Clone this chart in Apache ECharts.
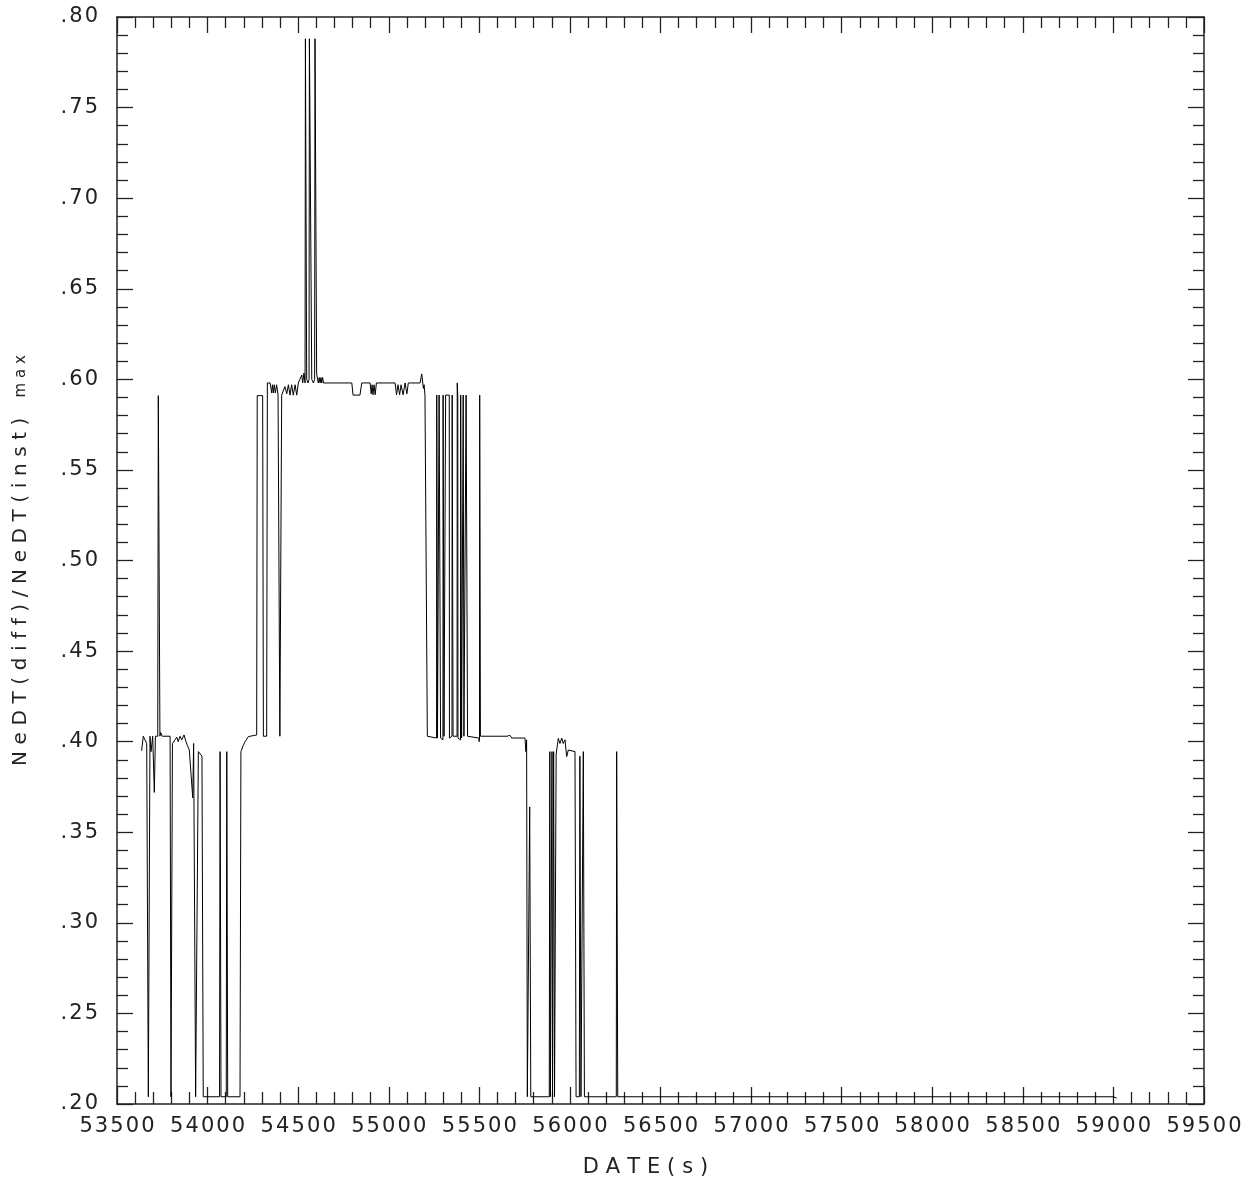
<!DOCTYPE html>
<html>
<head>
<meta charset="utf-8">
<script src="https://cdn.jsdelivr.net/npm/echarts@6/dist/echarts.min.js"></script>
<style>
html,body{margin:0;padding:0;background:#fff;}
#chart{width:1246px;height:1184px;}
</style>
</head>
<body>
<div id="chart"></div>
<script>
// Axis ranges and tick steps
const xRange = [53500, 59500];
const xStep = 500;
const yRange = [0.20, 0.80];
const yStep = 0.05;

// Time (s) vs NeDT(diff)/NeDT(inst) max, in segments
const segStart = [
  [53636,0.395],[53645,0.403],[53655,0.404],[53664,0.399],[53670,0.399],[53673,0.204],[53679,0.204],
  [53682,0.403],[53688,0.3945],[53697,0.403],[53700,0.403],[53706,0.372],[53712,0.403],[53725,0.403],
  [53728,0.591],[53733,0.591],[53737,0.403],[53741,0.405],[53750,0.403],[53793,0.403],[53798,0.204],
  [53803,0.204],[53806,0.399],[53820,0.401],[53830,0.4025],[53838,0.400],[53848,0.403],[53857,0.401],
  [53870,0.4037],[53881,0.400],[53888,0.398],[53899,0.3954],[53908,0.3945],[53918,0.369],[53923,0.399],
  [53934,0.204],[53945,0.204],[53949,0.3945],[53958,0.395],[53969,0.392],[53976,0.204],[54066,0.204],
  [54069,0.3945],[54072,0.3945],[54074,0.204],[54103,0.204],[54106,0.3945],[54109,0.3945],[54111,0.204],
  [54179,0.204],[54184,0.3945],[54197,0.398],[54207,0.400],[54225,0.4028],[54234,0.403],[54271,0.4037],
  [54274,0.591],[54304,0.591],[54308,0.403],[54326,0.403]
];
const segPlateau = [
  [54330,0.598],[54345,0.598],[54354,0.5925],[54358,0.597],[54363,0.5925],[54368,0.597],[54374,0.5925],
  [54381,0.597],[54389,0.5913],[54396,0.5913],[54399,0.403],[54404,0.403],[54409,0.5913],[54418,0.5913],
  [54427,0.596],[54437,0.592],[54446,0.597],[54455,0.5913],[54464,0.597],[54473,0.5913],[54483,0.597],
  [54492,0.5913],[54501,0.598],[54510,0.599],[54520,0.6024],[54525,0.598],[54532,0.6035],[54538,0.598],
  [54540,0.788],[54545,0.788],[54547,0.600],[54554,0.598],[54560,0.600],[54562,0.788],[54572,0.788],
  [54575,0.600],[54584,0.598],[54591,0.600],[54593,0.788],[54600,0.788],[54602,0.603],[54611,0.598],
  [54616,0.601],[54621,0.598],[54626,0.601],[54630,0.598],[54635,0.601],[54640,0.598],[54796,0.598],
  [54803,0.5913],[54841,0.5913],[54851,0.598],[54897,0.598],[54903,0.592],[54908,0.597],[54913,0.5915],
  [54919,0.597],[54925,0.5915],[54932,0.598],[54942,0.598],[55035,0.598],[55043,0.5915],[55051,0.597],
  [55060,0.5915],[55068,0.597],[55079,0.5915],[55090,0.598],[55100,0.592],[55108,0.598],[55173,0.598],
  [55182,0.603],[55191,0.595],[55195,0.597],[55200,0.5913],[55209,0.5913]
];
const segDecline = [
  [55213,0.403],[55218,0.402],[55264,0.402],[55265,0.5913],[55268,0.5913],[55269,0.402],[55277,0.403],
  [55278,0.5913],[55285,0.5913],[55286,0.402],[55299,0.401],[55300,0.5913],[55304,0.5913],[55305,0.403],
  [55313,0.402],[55314,0.5913],[55334,0.5913],[55335,0.402],[55349,0.403],[55350,0.5913],[55354,0.5913],
  [55355,0.403],[55377,0.403],[55378,0.598],[55381,0.5913],[55382,0.402],[55396,0.401],[55397,0.5913],
  [55401,0.5913],[55402,0.402],[55410,0.403],[55411,0.5913],[55414,0.5913],[55415,0.403],[55426,0.402],
  [55427,0.5913],[55434,0.5913],[55435,0.403],[55497,0.402],[55499,0.400],[55501,0.402],[55502,0.5913],
  [55505,0.5913],[55506,0.403],[55575,0.403],[55586,0.4022],[55597,0.403],[55653,0.403],[55661,0.402],
  [55669,0.4035],[55679,0.402],[55752,0.402],[55757,0.3945],[55761,0.401],[55765,0.204]
];
const segTail = [
  [55775,0.204],[55778,0.364],[55781,0.364],[55784,0.204],[55886,0.204],[55889,0.3945],[55892,0.204],
  [55898,0.204],[55901,0.3945],[55904,0.204],[55908,0.204],[55910,0.3945],[55915,0.204],[55920,0.204],
  [55924,0.393],[55927,0.3954],[55936,0.4018],[55945,0.399],[55955,0.402],[55963,0.399],[55973,0.401],
  [55982,0.3917],[55991,0.3954],[56000,0.3945],[56028,0.3945],[56034,0.204],[56052,0.204],[56055,0.392],
  [56058,0.392],[56061,0.204],[56072,0.204],[56074,0.3945],[56077,0.3945],[56080,0.204],[56256,0.204],
  [56258,0.3945],[56261,0.3945],[56264,0.204],[56475,0.204],[56479,0.2032],[56483,0.204],[56660,0.204],
  [56664,0.2034],[56668,0.204],[57890,0.204],[57894,0.2032],[57898,0.204],[58998,0.204],[59018,0.2033]
];

const seriesData = [].concat(segStart, segPlateau, segDecline, segTail);

const FONT = 'DejaVu Sans';
const INK = '#222';
function spaced(s, sp) { return String(s).split('').join(sp); }

function xAxisCfg(pos, showLabel) {
  return {
    type: 'value', position: pos, min: xRange[0], max: xRange[1], interval: xStep,
    axisLine: { show: true, onZero: false, lineStyle: { color: INK, width: 1.5 } },
    axisTick: { show: true, inside: true, length: pos === 'bottom' ? 17 : 16, lineStyle: { color: INK, width: 1.3 } },
    minorTick: { show: true, splitNumber: 5, length: pos === 'bottom' ? 12 : 11, lineStyle: { color: INK, width: 1.3 } },
    splitLine: { show: false }, minorSplitLine: { show: false },
    axisLabel: {
      show: showLabel, margin: 12, fontFamily: FONT, fontSize: 21, color: INK,
      formatter: v => spaced(v, '\u200A')
    }
  };
}
function yAxisCfg(pos, showLabel) {
  return {
    type: 'value', position: pos, min: yRange[0], max: yRange[1], interval: yStep,
    axisLine: { show: true, onZero: false, lineStyle: { color: INK, width: 1.5 } },
    axisTick: { show: true, inside: true, length: 16, lineStyle: { color: INK, width: 1.3 } },
    minorTick: { show: true, splitNumber: 5, length: 11, lineStyle: { color: INK, width: 1.3 } },
    splitLine: { show: false }, minorSplitLine: { show: false },
    axisLabel: {
      show: showLabel, margin: 19, fontFamily: FONT, fontSize: 21, color: INK,
      formatter: v => spaced(v.toFixed(2).replace(/^0/, ''), '\u200A')
    }
  };
}

const xb = xAxisCfg('bottom', true);
xb.name = spaced('DATE(s)', '\u2004');
xb.nameLocation = 'middle';
xb.nameGap = 53;
xb.nameTextStyle = { fontFamily: FONT, fontSize: 21, color: INK, padding: [0, 30, 0, 0] };

const yl = yAxisCfg('left', true);
yl.name = '{a|' + spaced('NeDT(diff)/NeDT(inst)', '\u2004') + '}{a|\u2002\u2002}{b|' + spaced('max', '\u2004') + '}';
yl.nameLocation = 'middle';
yl.nameGap = 86;
yl.nameTextStyle = {
  fontFamily: FONT, color: INK,
  rich: { a: { fontFamily: FONT, fontSize: 20, color: INK }, b: { fontFamily: FONT, fontSize: 15, color: INK } }
};

const chart = echarts.init(document.getElementById('chart'), null, { renderer: 'canvas' });
chart.setOption({
  animation: false,
  backgroundColor: '#fff',
  grid: { left: 117, right: 42, top: 17, bottom: 80, containLabel: false },
  xAxis: [xb, xAxisCfg('top', false)],
  yAxis: [yl, yAxisCfg('right', false)],
  series: [{
    type: 'line', xAxisIndex: 0, yAxisIndex: 0,
    data: seriesData, symbol: 'none', showSymbol: false, sampling: null,
    lineStyle: { color: '#000', width: 1 }
  }]
});
</script>
</body>
</html>
